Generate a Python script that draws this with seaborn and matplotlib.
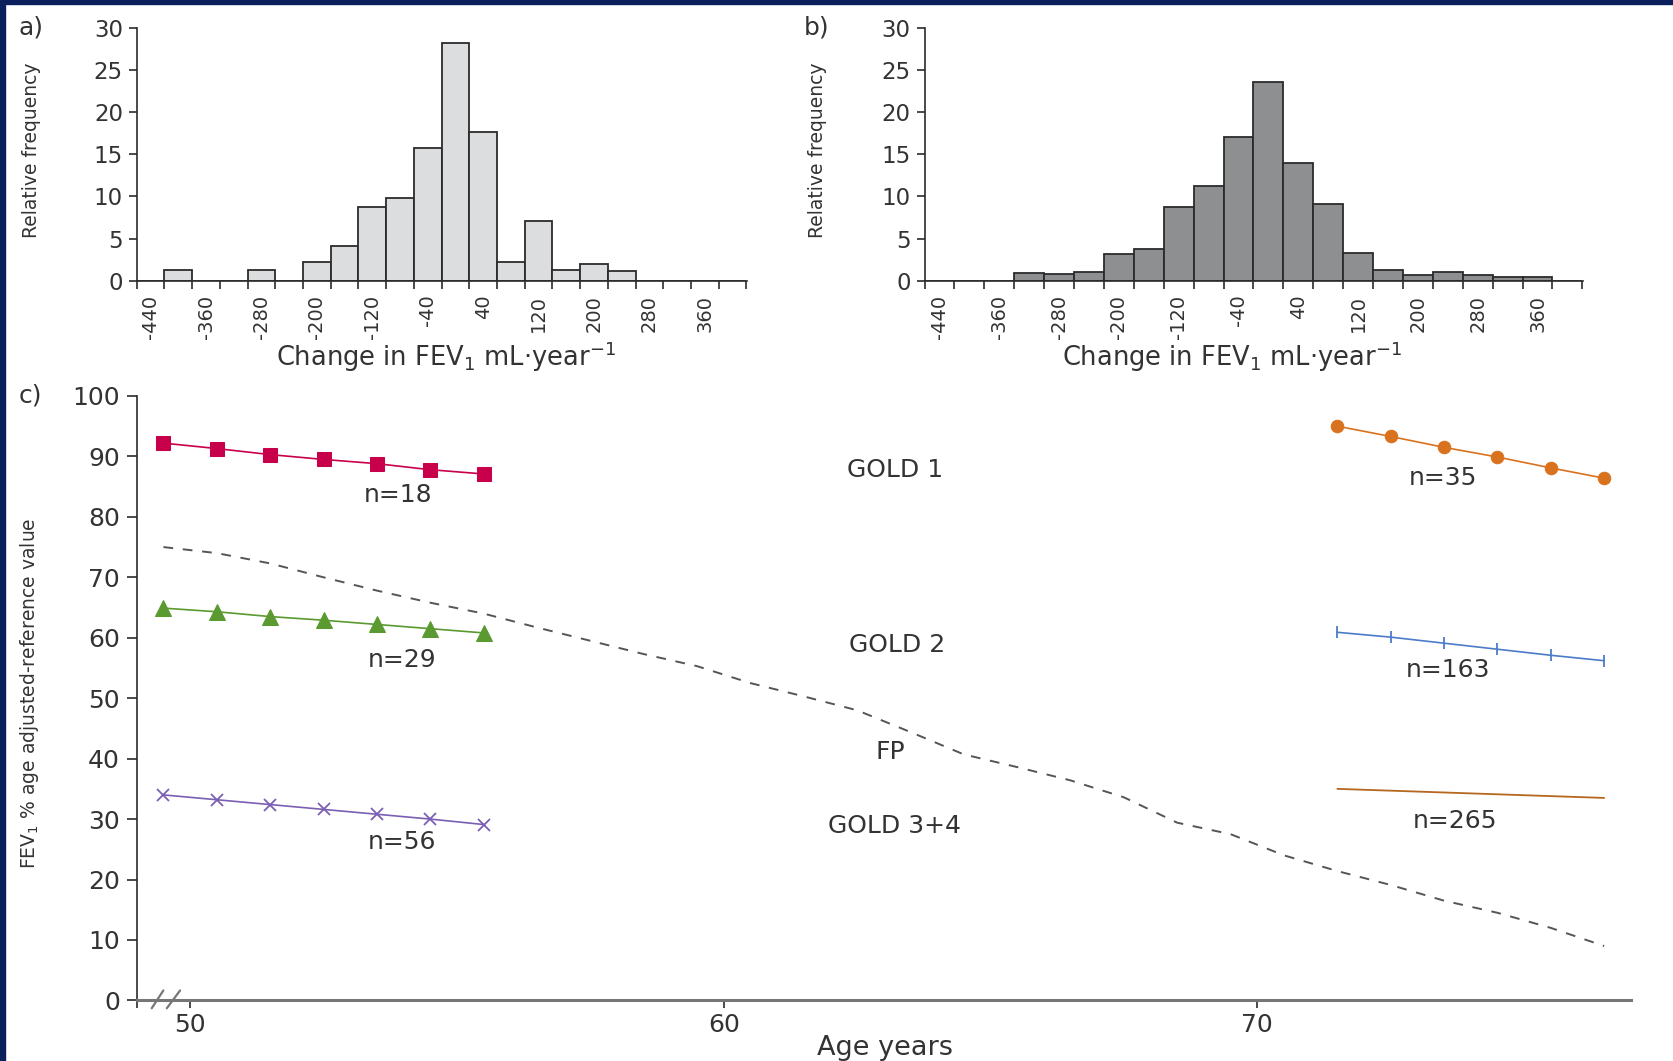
import numpy as np
import matplotlib
matplotlib.use("Agg")
import matplotlib.pyplot as plt
from matplotlib.patches import Rectangle
import seaborn as sns

# ---- histogram data (relative frequency per 40 mL/year bin) ----
bin_edges = [-460, -420, -380, -340, -300, -260, -220, -180, -140, -100, -60, -20,
             20, 60, 100, 140, 180, 220, 260, 300, 340, 380, 420]
bin_centres = [-440, -400, -360, -320, -280, -240, -200, -160, -120, -80, -40, 0,
               40, 80, 120, 160, 200, 240, 280, 320, 360, 400]
freq_a = [0, 1.3, 0, 0, 1.3, 0, 2.2, 4.1, 8.8, 9.8, 15.7, 28.2,
          17.6, 2.2, 7.1, 1.3, 2.0, 1.2, 0, 0, 0, 0]
freq_b = [0, 0, 0, 0.9, 0.8, 1.0, 3.2, 3.8, 8.8, 11.3, 17.0, 23.6,
          14.0, 9.1, 3.3, 1.3, 0.7, 1.0, 0.7, 0.45, 0.45, 0]
hist_label_pos = [-440, -360, -280, -200, -120, -40, 40, 120, 200, 280, 360]
hist_labels = ["-440", "-360", "-280", "-200", "-120", "-40", "40", "120", "200", "280", "360"]
hist_yticks = [0, 5, 10, 15, 20, 25, 30]

# ---- panel c data ----
ages_early = [49.5, 50.5, 51.5, 52.5, 53.5, 54.5, 55.5]
gold1_early = [92.2, 91.3, 90.3, 89.5, 88.8, 87.8, 87.1]
gold2_early = [64.9, 64.3, 63.5, 62.9, 62.2, 61.5, 60.8]
gold34_early = [34.0, 33.2, 32.4, 31.6, 30.8, 30.0, 29.1]
ages_late = [71.5, 72.5, 73.5, 74.5, 75.5, 76.5]
gold1_late = [95.0, 93.3, 91.5, 89.9, 88.1, 86.4]
gold2_late = [60.9, 60.1, 59.1, 58.1, 57.1, 56.2]
gold34_late = [35.0, 34.7, 34.4, 34.1, 33.8, 33.5]
fp_ages = [49.5, 50.5, 51.5, 52.5, 53.5, 54.5, 55.5, 56.5, 57.5, 58.5, 59.5, 60.5, 61.5, 62.5,
           63.5, 64.5, 65.5, 66.5, 67.5, 68.5, 69.5, 70.5, 71.5, 72.5, 73.5, 74.5, 75.5, 76.5]
fp_values = [75.0, 74.0, 72.3, 70.0, 67.8, 65.8, 64.0, 61.7, 59.5, 57.3, 55.3, 52.5, 50.3, 48.0,
             44.4, 40.7, 38.6, 36.4, 33.6, 29.4, 27.5, 24.0, 21.4, 19.1, 16.5, 14.5, 12.0, 9.0]
c_yticks = [0, 10, 20, 30, 40, 50, 60, 70, 80, 90, 100]
c_xticks = [49, 50, 60, 70]
c_xticklabels = ["", "50", "60", "70"]

# annotations: (text, age, value)
notes = [("n=18", 53.9, 82.5), ("n=29", 53.97, 55.1), ("n=56", 53.98, 25.1),
         ("GOLD 1", 63.21, 86.6), ("GOLD 2", 63.25, 57.6), ("FP", 63.13, 39.9),
         ("GOLD 3+4", 63.21, 27.7), ("n=35", 73.48, 85.3), ("n=163", 73.57, 53.5),
         ("n=265", 73.7, 28.6)]

navy = "#0b1f5c"
ink = "#2b2b2b"
txt = "#333333"

sns.set_style("ticks")
plt.rcParams["font.family"] = ["DejaVu Sans"]

fig = plt.figure(figsize=(16.74, 10.61), dpi=100)
fig.patches.append(Rectangle((0, 0), 0.003, 1, transform=fig.transFigure, color=navy, zorder=10))
fig.patches.append(Rectangle((0, 0.9963), 1, 0.0037, transform=fig.transFigure, color=navy, zorder=10))

ax_a = fig.add_axes([0.0817, 0.7353, 0.3646, 0.2385])
ax_b = fig.add_axes([0.5523, 0.7353, 0.3934, 0.2385])
ax_c = fig.add_axes([0.0817, 0.0571, 0.8925, 0.5697])


def draw_hist(ax, freq, fill, xlab_x, ylab_x):
    keep = [i for i in range(len(freq)) if freq[i] > 0]
    sns.histplot(x=[bin_centres[i] for i in keep], weights=[freq[i] for i in keep],
                 bins=bin_edges, ax=ax, color=fill, edgecolor=ink, linewidth=1.3, alpha=1)
    ax.set_xlim(-460, 421)
    ax.set_ylim(0, 30)
    ax.set_yticks(hist_yticks)
    ax.set_xticks(bin_edges)
    ax.set_xticklabels([])
    ax.set_xticks(hist_label_pos, hist_labels, minor=True)
    ax.tick_params(axis="x", which="major", length=6, width=1.2, color=ink, direction="out")
    ax.tick_params(axis="x", which="minor", length=0, rotation=90, pad=10, labelsize=14, labelcolor=txt)
    ax.tick_params(axis="y", length=6, width=1.2, color=ink, pad=4, labelsize=16.5, labelcolor=txt)
    for s in ["left", "bottom"]:
        ax.spines[s].set_linewidth(1.2)
        ax.spines[s].set_color(ink)
    sns.despine(ax=ax)
    ax.set_ylabel("Relative frequency", fontsize=13.5, color=txt)
    ax.yaxis.set_label_coords(ylab_x, 0.515)
    ax.yaxis.label.set_va("center")
    ax.set_xlabel("Change in FEV$_1$ mL·year$^{-1}$", fontsize=18.5, color=txt)
    ax.xaxis.set_label_coords(xlab_x, -0.30)
    ax.xaxis.label.set_va("center")


draw_hist(ax_a, freq_a, "#dcddde", 0.506, -0.173)
draw_hist(ax_b, freq_b, "#8e8f91", 0.467, -0.162)

# ---- panel c ----
red, green, purple = "#c8004b", "#5a9a30", "#7b5fb5"
orange, blue, brown = "#d9721f", "#4c7cc8", "#b5671e"

sns.lineplot(x=fp_ages, y=fp_values, ax=ax_c, color="#555555", linewidth=1.4,
             linestyle=(0, (5, 5)))
sns.lineplot(x=ages_early, y=gold1_early, ax=ax_c, color=red, linewidth=1.2,
             marker="s", markersize=10, markeredgecolor=red)
sns.lineplot(x=ages_early, y=gold2_early, ax=ax_c, color=green, linewidth=1.2,
             marker="^", markersize=12, markeredgecolor=green)
sns.lineplot(x=ages_early, y=gold34_early, ax=ax_c, color=purple, linewidth=1.2,
             marker="x", markersize=8, markeredgewidth=1.3, markeredgecolor=purple)
sns.lineplot(x=ages_late, y=gold1_late, ax=ax_c, color=orange, linewidth=1.2,
             marker="o", markersize=9, markeredgecolor=orange)
sns.lineplot(x=ages_late, y=gold2_late, ax=ax_c, color=blue, linewidth=1.2,
             marker="|", markersize=9, markeredgewidth=1.3, markeredgecolor=blue)
sns.lineplot(x=ages_late, y=gold34_late, ax=ax_c, color=brown, linewidth=1.3)

for label, x, y in notes:
    ax_c.text(x, y, label, ha="center", va="baseline", fontsize=18, color=txt)

ax_c.set_xlim(49, 77)
ax_c.set_ylim(0, 100)
ax_c.set_yticks(c_yticks)
ax_c.set_xticks(c_xticks, c_xticklabels)
ax_c.tick_params(axis="y", length=7, width=1.2, color=ink, pad=5, labelsize=18, labelcolor=txt)
ax_c.tick_params(axis="x", length=6, width=1.2, color=ink, pad=3, labelsize=18, labelcolor=txt)
sns.despine(ax=ax_c)
ax_c.spines["left"].set_linewidth(1.2)
ax_c.spines["left"].set_color(ink)
ax_c.spines["bottom"].set_linewidth(2.2)
ax_c.spines["bottom"].set_color("#777777")
ax_c.set_xlabel("Age years", fontsize=19.5, color=txt)
ax_c.xaxis.set_label_coords(0.501, -0.0794)
ax_c.xaxis.label.set_va("center")
ax_c.set_ylabel("FEV$_1$ % age adjusted-reference value", fontsize=13.5, color=txt)
ax_c.yaxis.set_label_coords(-0.0715, 0.508)
ax_c.yaxis.label.set_va("center")

# axis break marks
for x0, x1 in [(0.010, 0.0178), (0.0201, 0.029)]:
    ax_c.plot([x0, x1], [-0.013, 0.0165], transform=ax_c.transAxes, color="#777777",
              linewidth=1.6, clip_on=False)

# panel letters
fig.text(0.0185, 0.9738, "a)", fontsize=18, ha="center", va="center", color=txt)
fig.text(0.4879, 0.9738, "b)", fontsize=18, ha="center", va="center", color=txt)
fig.text(0.0182, 0.6277, "c)", fontsize=18, ha="center", va="center", color=txt)

fig.savefig("out.png", dpi=100)
